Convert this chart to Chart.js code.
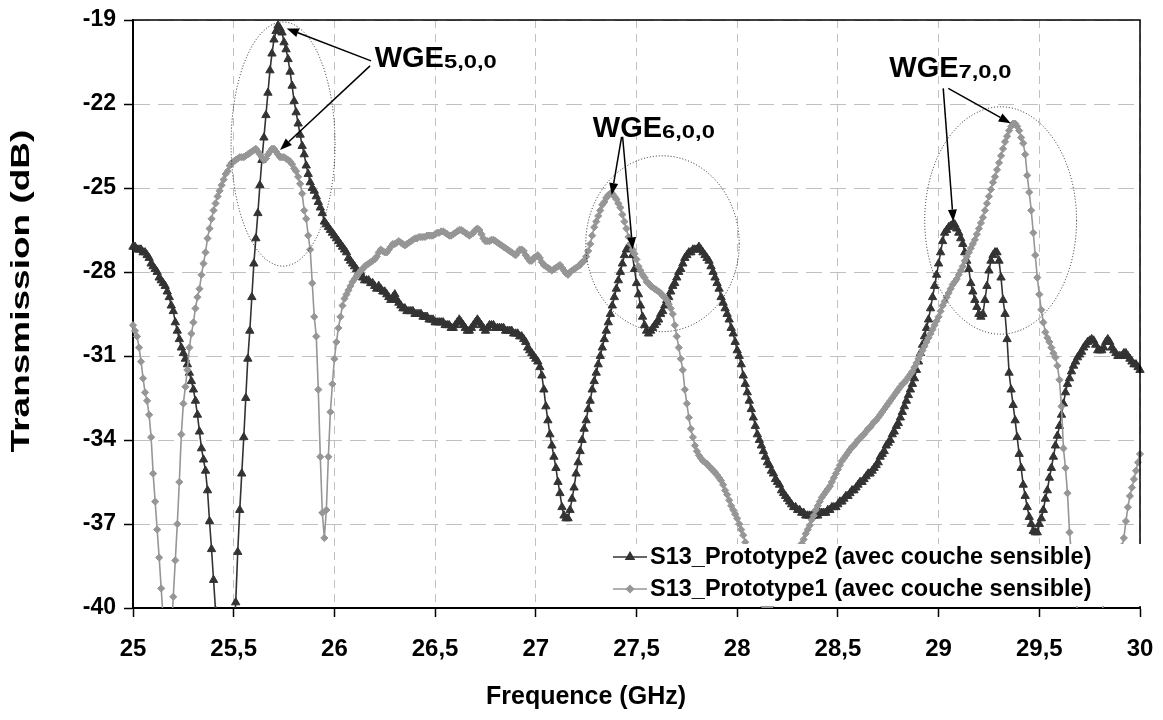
<!DOCTYPE html>
<html><head><meta charset="utf-8">
<script src="https://cdn.jsdelivr.net/npm/chart.js@4/dist/chart.umd.min.js"></script>
<style>html,body{margin:0;padding:0;background:#fff;}</style>
</head><body>
<canvas id="c" width="1163" height="720"></canvas>
<script>
// ---------------- DATA ----------------
const FREQ_START = 25.0;   // GHz, first sample
const FREQ_STEP = 0.01;    // GHz, sample spacing

// S13_Prototype2 (avec couche sensible) — dB, one row per 0.1 GHz
const proto2 = [
-27.1,-27.1,-27.2,-27.2,-27.2,-27.3,-27.3,-27.4,-27.5,-27.7,
-27.8,-27.9,-28.0,-28.2,-28.3,-28.4,-28.5,-28.7,-28.9,-29.2,
-29.4,-29.8,-30.1,-30.4,-30.7,-30.9,-31.1,-31.3,-31.6,-31.9,
-32.2,-32.6,-33.1,-33.7,-34.3,-34.7,-35.1,-35.8,-36.9,-37.9,
-39.0,-40.1,-41.3,-42.5,-43.5,-44.0,-44.2,-43.8,-43.0,-42.2,
-41.2,-39.8,-38.0,-36.5,-35.2,-33.9,-32.5,-31.1,-30.1,-28.9,
-27.7,-26.8,-25.9,-24.9,-24.0,-23.2,-22.4,-21.6,-20.8,-20.2,
-19.7,-19.4,-19.2,-19.3,-19.45,-19.8,-20.05,-20.4,-20.85,-21.35,
-21.9,-22.3,-22.7,-23.1,-23.5,-23.8,-24.2,-24.5,-24.8,-25.0,
-25.1,-25.3,-25.5,-25.7,-25.9,-26.2,-26.3,-26.4,-26.5,-26.6,
-26.7,-26.8,-26.9,-27.0,-27.1,-27.2,-27.3,-27.5,-27.6,-27.7,
-27.8,-27.9,-28.0,-28.0,-28.2,-28.3,-28.3,-28.3,-28.4,-28.4,
-28.5,-28.6,-28.5,-28.6,-28.7,-28.7,-28.8,-28.9,-29.0,-28.9,
-28.8,-29.0,-29.1,-29.2,-29.3,-29.3,-29.4,-29.4,-29.4,-29.4,
-29.5,-29.5,-29.5,-29.5,-29.6,-29.6,-29.6,-29.7,-29.7,-29.7,
-29.8,-29.8,-29.8,-29.8,-29.8,-29.9,-29.9,-29.9,-30.0,-30.0,
-29.9,-29.8,-29.7,-29.8,-29.9,-30.0,-30.1,-30.1,-30.0,-29.9,
-29.8,-29.7,-29.8,-29.9,-30.0,-30.1,-30.0,-29.9,-29.9,-29.9,
-30.0,-30.0,-30.0,-30.0,-30.0,-30.1,-30.1,-30.1,-30.1,-30.2,
-30.2,-30.2,-30.3,-30.3,-30.4,-30.5,-30.7,-30.8,-30.9,-31.0,
-31.1,-31.2,-31.4,-31.7,-32.2,-32.8,-33.3,-33.8,-34.2,-34.6,
-35.0,-35.5,-35.9,-36.4,-36.7,-36.8,-36.8,-36.5,-36.1,-35.7,
-35.2,-34.8,-34.4,-34.0,-33.6,-33.3,-32.9,-32.6,-32.2,-31.9,
-31.6,-31.3,-31.0,-30.7,-30.4,-30.1,-29.8,-29.5,-29.2,-28.9,
-28.6,-28.3,-28.0,-27.7,-27.4,-27.2,-27.1,-27.1,-27.4,-27.9,
-28.4,-28.8,-29.2,-29.6,-29.9,-30.1,-30.2,-30.1,-30.0,-29.9,
-29.8,-29.7,-29.5,-29.4,-29.2,-29.0,-28.9,-28.7,-28.5,-28.4,
-28.2,-28.0,-27.9,-27.7,-27.5,-27.4,-27.3,-27.3,-27.2,-27.2,
-27.2,-27.1,-27.2,-27.3,-27.4,-27.5,-27.6,-27.8,-28.0,-28.2,
-28.4,-28.6,-28.9,-29.1,-29.3,-29.5,-29.7,-30.0,-30.2,-30.5,
-30.8,-31.0,-31.3,-31.7,-32.0,-32.3,-32.6,-32.9,-33.2,-33.5,
-33.8,-34.0,-34.2,-34.4,-34.6,-34.8,-34.9,-35.1,-35.2,-35.4,
-35.5,-35.6,-35.8,-35.9,-36.0,-36.1,-36.2,-36.3,-36.4,-36.4,
-36.5,-36.5,-36.6,-36.6,-36.7,-36.7,-36.7,-36.7,-36.7,-36.7,
-36.7,-36.6,-36.6,-36.6,-36.6,-36.5,-36.5,-36.4,-36.4,-36.4,
-36.3,-36.2,-36.2,-36.1,-36.0,-36.0,-35.9,-35.8,-35.8,-35.7,
-35.6,-35.5,-35.5,-35.4,-35.3,-35.2,-35.2,-35.1,-35.0,-34.9,
-34.8,-34.6,-34.5,-34.4,-34.2,-34.1,-34.0,-33.8,-33.7,-33.5,
-33.4,-33.2,-33.0,-32.8,-32.6,-32.4,-32.2,-32.0,-31.8,-31.5,
-31.2,-30.9,-30.6,-30.3,-30.0,-29.7,-29.3,-28.9,-28.5,-28.1,
-27.7,-27.3,-26.9,-26.6,-26.5,-26.4,-26.35,-26.3,-26.3,-26.45,
-26.6,-26.8,-27.0,-27.3,-27.6,-27.9,-28.4,-28.7,-29.0,-29.25,
-29.5,-29.6,-29.5,-29.0,-28.5,-27.95,-27.6,-27.4,-27.3,-27.3,
-27.6,-28.2,-29.0,-29.5,-30.4,-31.6,-32.2,-32.75,-33.3,-33.9,
-34.5,-35.0,-35.6,-36.0,-36.4,-36.75,-37.0,-37.25,-37.3,-37.3,
-37.0,-36.8,-36.5,-36.1,-35.8,-35.35,-35.0,-34.6,-34.2,-33.85,
-33.5,-33.1,-32.7,-32.3,-32.0,-31.8,-31.55,-31.35,-31.2,-31.05,
-30.95,-30.85,-30.7,-30.6,-30.5,-30.45,-30.4,-30.45,-30.6,-30.8,
-30.8,-30.8,-30.7,-30.5,-30.4,-30.5,-30.7,-30.8,-30.9,-31.0,
-31.0,-31.0,-30.9,-30.9,-31.0,-31.1,-31.2,-31.3,-31.3,-31.4,
-31.5
];

// S13_Prototype1 (avec couche sensible) — dB, one row per 0.1 GHz
const proto1 = [
-29.9,-30.1,-30.3,-30.7,-31.2,-31.8,-32.3,-32.6,-33.1,-33.9,
-35.2,-36.2,-37.2,-38.2,-39.3,-40.4,-41.3,-41.8,-41.6,-40.9,
-39.6,-38.3,-37.0,-35.5,-33.8,-32.7,-32.1,-31.5,-30.7,-30.2,
-29.8,-29.3,-28.9,-28.6,-28.1,-27.7,-27.3,-26.8,-26.45,-26.1,
-25.8,-25.55,-25.3,-25.1,-24.9,-24.7,-24.5,-24.4,-24.2,-24.1,
-24.05,-24.0,-23.95,-23.9,-23.9,-23.9,-23.85,-23.8,-23.75,-23.7,
-23.65,-23.6,-23.7,-23.8,-23.9,-24.0,-23.95,-23.8,-23.7,-23.6,
-23.6,-23.7,-23.8,-23.9,-23.9,-23.9,-23.95,-24.0,-24.05,-24.15,
-24.3,-24.4,-24.6,-24.85,-25.2,-25.8,-26.1,-26.7,-27.2,-28.4,
-29.6,-30.3,-32.2,-34.6,-36.6,-37.5,-36.5,-34.6,-33.0,-32.0,
-31.1,-30.5,-30.0,-29.6,-29.2,-28.95,-28.8,-28.65,-28.5,-28.35,
-28.25,-28.15,-28.05,-27.95,-27.9,-27.8,-27.75,-27.7,-27.65,-27.6,
-27.55,-27.45,-27.3,-27.2,-27.25,-27.3,-27.3,-27.2,-27.1,-27.0,
-27.0,-26.95,-26.9,-26.95,-27.0,-27.05,-27.0,-26.95,-26.9,-26.85,
-26.8,-26.8,-26.75,-26.75,-26.75,-26.75,-26.7,-26.7,-26.7,-26.7,
-26.65,-26.6,-26.6,-26.55,-26.55,-26.6,-26.65,-26.7,-26.7,-26.65,
-26.6,-26.55,-26.5,-26.5,-26.55,-26.6,-26.65,-26.7,-26.65,-26.6,
-26.5,-26.45,-26.5,-26.65,-26.8,-26.9,-26.9,-26.9,-26.85,-26.85,
-26.9,-26.95,-27.0,-27.05,-27.1,-27.15,-27.2,-27.25,-27.3,-27.35,
-27.4,-27.3,-27.2,-27.2,-27.25,-27.4,-27.5,-27.6,-27.6,-27.5,
-27.45,-27.4,-27.5,-27.65,-27.75,-27.8,-27.85,-27.9,-27.95,-27.9,
-27.85,-27.8,-27.75,-27.85,-27.95,-28.05,-28.1,-28.0,-27.95,-27.9,
-27.85,-27.8,-27.75,-27.65,-27.6,-27.45,-27.25,-27.0,-26.7,-26.4,
-26.2,-26.0,-25.8,-25.6,-25.5,-25.35,-25.25,-25.2,-25.2,-25.3,
-25.4,-25.55,-25.7,-25.95,-26.2,-26.45,-26.75,-27.0,-27.2,-27.35,
-27.55,-27.8,-27.95,-28.1,-28.2,-28.35,-28.4,-28.5,-28.55,-28.6,
-28.65,-28.7,-28.75,-28.85,-28.9,-29.0,-29.15,-29.3,-29.5,-29.9,
-30.3,-30.7,-31.1,-31.5,-32.2,-32.7,-33.2,-33.6,-33.9,-34.2,
-34.4,-34.55,-34.65,-34.75,-34.8,-34.85,-34.95,-35.0,-35.1,-35.15,
-35.25,-35.35,-35.45,-35.6,-35.8,-35.95,-36.15,-36.35,-36.5,-36.65,
-36.8,-37.0,-37.2,-37.4,-37.65,-37.9,-38.2,-38.5,-38.8,-39.1,
-39.4,-39.6,-39.8,-39.9,-40.0,-40.0,-40.0,-39.9,-39.8,-39.7,
-39.6,-39.5,-39.4,-39.3,-39.2,-39.0,-38.9,-38.7,-38.5,-38.3,
-38.1,-37.9,-37.7,-37.55,-37.35,-37.2,-37.05,-36.85,-36.7,-36.5,
-36.35,-36.2,-36.05,-35.95,-35.85,-35.75,-35.65,-35.5,-35.35,-35.2,
-35.05,-34.9,-34.75,-34.65,-34.55,-34.45,-34.35,-34.25,-34.2,-34.1,
-34.0,-33.95,-33.85,-33.8,-33.7,-33.6,-33.55,-33.45,-33.35,-33.3,
-33.2,-33.1,-33.0,-32.9,-32.8,-32.7,-32.6,-32.5,-32.4,-32.3,
-32.2,-32.1,-32.0,-31.95,-31.85,-31.75,-31.65,-31.55,-31.4,-31.25,
-31.1,-30.95,-30.8,-30.65,-30.5,-30.35,-30.2,-30.05,-29.9,-29.75,
-29.6,-29.4,-29.2,-29.05,-28.9,-28.75,-28.6,-28.45,-28.35,-28.25,
-28.1,-27.95,-27.8,-27.6,-27.45,-27.3,-27.15,-27.0,-26.85,-26.65,
-26.45,-26.25,-26.05,-25.8,-25.55,-25.3,-25.05,-24.8,-24.6,-24.35,
-24.1,-23.85,-23.6,-23.35,-23.15,-22.95,-22.8,-22.7,-22.7,-22.8,
-22.95,-23.2,-23.4,-23.8,-24.55,-25.15,-25.8,-26.6,-27.4,-28.2,
-28.8,-29.35,-29.8,-30.15,-30.35,-30.5,-30.7,-30.9,-31.05,-31.35,
-31.85,-32.8,-34.3,-35.0,-35.9,-37.3,-38.1,-38.8,-39.5,-40.2,
-40.8,-41.3,-41.6,-41.8,-41.9,-41.9,-41.8,-41.6,-41.3,-41.0,
-40.6,-40.2,-39.8,-39.4,-39.0,-38.7,-38.5,-38.3,-38.1,-38.0,
-37.9,-37.8,-37.5,-36.9,-36.4,-36.0,-35.7,-35.4,-35.1,-34.8,
-34.5
];

const seriesNames = ['S13_Prototype2 (avec couche sensible)', 'S13_Prototype1 (avec couche sensible)'];
const xTickValues = [25, 25.5, 26, 26.5, 27, 27.5, 28, 28.5, 29, 29.5, 30];
const xTickLabels = ['25', '25,5', '26', '26,5', '27', '27,5', '28', '28,5', '29', '29,5', '30'];
const yTickValues = [-40, -37, -34, -31, -28, -25, -22, -19];
const xTitle = 'Frequence (GHz)';
const yTitle = 'Transmission (dB)';

// Annotations (in data units: GHz, dB)
const noteLabels = [
  {main: 'WGE', sub: '5,0,0', x: 26.200, y: -20.67},
  {main: 'WGE', sub: '6,0,0', x: 27.283, y: -23.17},
  {main: 'WGE', sub: '7,0,0', x: 28.755, y: -21.05}
];
const noteArrows = [
  {x0: 26.182, y0: -20.46, x1: 25.763, y1: -19.30},
  {x0: 26.177, y0: -20.64, x1: 25.730, y1: -23.64},
  {x0: 27.426, y0: -23.17, x1: 27.377, y1: -25.25},
  {x0: 27.431, y0: -23.17, x1: 27.481, y1: -27.19},
  {x0: 29.023, y0: -21.44, x1: 29.073, y1: -26.20},
  {x0: 29.048, y0: -21.44, x1: 29.358, y1: -22.69}
];
const noteEllipses = [
  {cx: 25.745, cy: -23.43, rx: 0.258, ry: 4.36},
  {cx: 27.629, cy: -26.99, rx: 0.381, ry: 3.14},
  {cx: 29.308, cy: -26.16, rx: 0.377, ry: 4.06}
];

// ---------------- CHART ----------------
const FONT = "'Liberation Sans', Arial, sans-serif";
const freqs = proto2.map((_, i) => +(FREQ_START + i * FREQ_STEP).toFixed(2));
const toPts = arr => arr.map((v, i) => ({x: freqs[i], y: v}));

const C2 = '#333333', C1 = '#969696';

const decor = {
  id: 'decor',
  afterDatasetsDraw(chart) {
    const {ctx, chartArea: a, scales: {x, y}} = chart;
    ctx.save();
    // top & right frame
    ctx.strokeStyle = '#000'; ctx.lineWidth = 1.5;
    ctx.beginPath();
    ctx.moveTo(a.left, a.top); ctx.lineTo(a.right, a.top); ctx.lineTo(a.right, a.bottom);
    ctx.stroke();

    // ellipses (dotted)
    ctx.strokeStyle = '#222'; ctx.lineWidth = 1; ctx.setLineDash([1, 2]);
    noteEllipses.forEach(e => {
      const cx = x.getPixelForValue(e.cx), cy = y.getPixelForValue(e.cy);
      const rx = Math.abs(x.getPixelForValue(e.cx + e.rx) - cx);
      const ry = Math.abs(y.getPixelForValue(e.cy + e.ry) - cy);
      ctx.beginPath(); ctx.ellipse(cx, cy, rx, ry, 0, 0, Math.PI * 2); ctx.stroke();
    });
    ctx.setLineDash([]);

    // arrows
    ctx.strokeStyle = '#000'; ctx.fillStyle = '#000'; ctx.lineWidth = 1.5;
    noteArrows.forEach(ar => {
      const x0 = x.getPixelForValue(ar.x0), y0 = y.getPixelForValue(ar.y0);
      const x1 = x.getPixelForValue(ar.x1), y1 = y.getPixelForValue(ar.y1);
      const ang = Math.atan2(y1 - y0, x1 - x0);
      const L = 12, W = 4.5;
      const bx = x1 - L * Math.cos(ang), by = y1 - L * Math.sin(ang);
      ctx.beginPath(); ctx.moveTo(x0, y0); ctx.lineTo(bx, by); ctx.stroke();
      ctx.beginPath();
      ctx.moveTo(x1, y1);
      ctx.lineTo(bx + W * Math.sin(ang), by - W * Math.cos(ang));
      ctx.lineTo(bx - W * Math.sin(ang), by + W * Math.cos(ang));
      ctx.closePath(); ctx.fill();
    });

    // labels
    ctx.textBaseline = 'alphabetic'; ctx.textAlign = 'left'; ctx.fillStyle = '#000';
    noteLabels.forEach(l => {
      const px = x.getPixelForValue(l.x), py = y.getPixelForValue(l.y);
      ctx.font = `bold 29px ${FONT}`;
      ctx.fillText(l.main, px, py);
      const w = ctx.measureText(l.main).width;
      ctx.save();
      ctx.translate(px + w, py + 1);
      ctx.scale(1.25, 1);
      ctx.font = `bold 19px ${FONT}`;
      ctx.fillText(l.sub, 0, 0);
      ctx.restore();
    });

    // legend box
    const lx = 596, ly = 544;
    ctx.fillStyle = '#fff';
    ctx.fillRect(lx, ly, 1143 - lx, 606 - ly);
    const rows = [
      {name: seriesNames[0], color: C2, style: 'triangle', r: 4.6, cy: 557},
      {name: seriesNames[1], color: C1, style: 'rectRot', r: 3.5, cy: 589}
    ];
    rows.forEach(r => {
      ctx.strokeStyle = r.color; ctx.lineWidth = 1.5;
      ctx.beginPath(); ctx.moveTo(613, r.cy); ctx.lineTo(647, r.cy); ctx.stroke();
      ctx.fillStyle = r.color;
      Chart.helpers.drawPoint(ctx, {pointStyle: r.style, radius: r.r, borderWidth: 1, rotation: 0}, 630, r.cy);
      ctx.fillStyle = '#000';
      ctx.font = `bold 23.5px ${FONT}`;
      ctx.textBaseline = 'middle';
      ctx.fillText(r.name, 650, r.cy + 1);
    });

    // axis titles
    ctx.fillStyle = '#000';
    ctx.font = `bold 25px ${FONT}`;
    ctx.textAlign = 'center'; ctx.textBaseline = 'middle';
    ctx.fillText(xTitle, 586, 697);
    ctx.translate(22, 291); ctx.rotate(-Math.PI / 2); ctx.scale(1.48, 1);
    ctx.fillText(yTitle, 0, 0);
    ctx.restore();
  }
};

new Chart(document.getElementById('c'), {
  type: 'line',
  data: {
    datasets: [
      {label: seriesNames[0], data: toPts(proto2), order: 1,
       borderColor: C2, backgroundColor: C2, borderWidth: 1.6,
       pointStyle: 'triangle', pointRadius: 4.8, pointBorderWidth: 1,
       pointBackgroundColor: C2, pointBorderColor: C2,
       clip: {left: 6, top: 6, right: 6, bottom: 0}},
      {label: seriesNames[1], data: toPts(proto1), order: 0,
       borderColor: C1, backgroundColor: C1, borderWidth: 1.6,
       pointStyle: 'rectRot', pointRadius: 3.6, pointBorderWidth: 1,
       pointBackgroundColor: C1, pointBorderColor: C1,
       clip: {left: 6, top: 6, right: 6, bottom: 0}}
    ]
  },
  options: {
    responsive: false, animation: false, devicePixelRatio: 1,
    layout: {padding: {top: 20, right: 23, left: 0, bottom: 0}},
    plugins: {legend: {display: false}, tooltip: {enabled: false}},
    elements: {line: {tension: 0}},
    scales: {
      x: {
        type: 'linear', min: 25, max: 30,
        afterBuildTicks: s => { s.ticks = xTickValues.map(v => ({value: v})); },
        afterFit: s => { s.height = 112; s.paddingLeft = 0; s.paddingRight = 0; },
        ticks: {callback: (v, i) => xTickLabels[i], color: '#000', padding: 18,
                maxRotation: 0, autoSkip: false,
                font: {family: FONT, size: 24, weight: 'bold'}},
        grid: {color: '#c0c0c0', lineWidth: 1, tickLength: 9, tickColor: '#000', tickWidth: 1.5},
        border: {display: true, color: '#000', width: 2, dash: [8, 6]}
      },
      y: {
        type: 'linear', min: -40, max: -19,
        afterBuildTicks: s => { s.ticks = yTickValues.map(v => ({value: v})); },
        afterFit: s => { s.width = 133; s.paddingTop = 0; s.paddingBottom = 0; },
        ticks: {color: '#000', padding: 8, font: {family: FONT, size: 23, weight: 'bold'}},
        grid: {color: '#c0c0c0', lineWidth: 1, tickLength: 9, tickColor: '#000', tickWidth: 1.5},
        border: {display: true, color: '#000', width: 2, dash: [16, 8]}
      }
    }
  },
  plugins: [decor]
});
</script>
</body></html>
